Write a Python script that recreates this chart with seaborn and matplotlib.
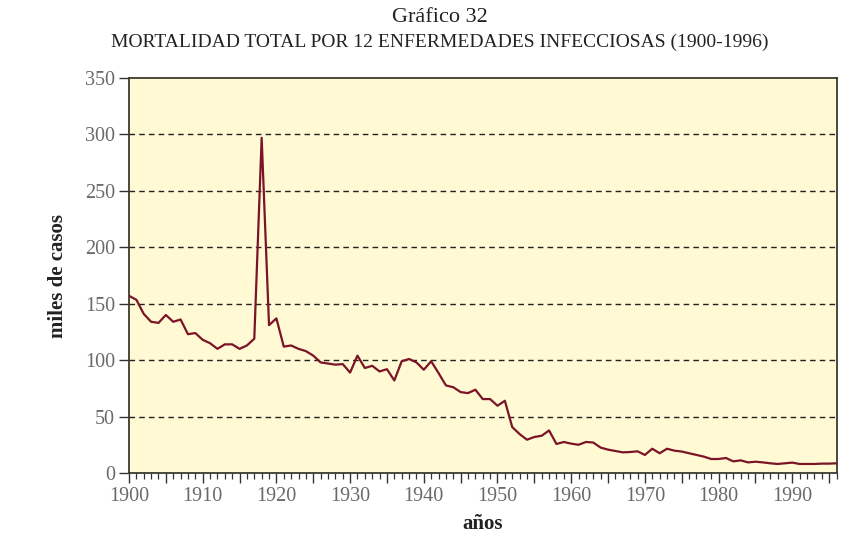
import numpy as np
import pandas as pd
import matplotlib
matplotlib.use("Agg")
import matplotlib.pyplot as plt
import seaborn as sns
from matplotlib.ticker import MultipleLocator

years = list(range(1900, 1997))
deaths = [
    157, 153.5, 141, 134, 133, 140, 134, 136, 123, 124,      # 1900-1909
    118, 115, 110, 114, 114, 110, 113, 119, 297, 131,        # 1910-1919
    137, 112, 113, 110, 108, 104, 98, 97, 96, 96.5,          # 1920-1929
    89, 104, 93, 95, 90, 92, 82, 99, 101, 98,                # 1930-1939
    91.5, 99, 88.6, 77.6, 76, 71.7, 70.8, 73.8, 65.5, 65.5,  # 1940-1949
    59.6, 64, 40.7, 34.5, 29.5, 31.9, 33, 37.7, 25.7, 27.5,  # 1950-1959
    26, 25, 27.5, 27, 22.5, 20.7, 19.5, 18.3, 18.6, 19.2,    # 1960-1969
    16, 21.5, 17.5, 21.5, 19.8, 19, 17.5, 16, 14.5, 12.4,    # 1970-1979
    12.4, 13.3, 10.3, 11.2, 9.4, 10, 9.4, 8.6, 8, 8.6,       # 1980-1989
    9.2, 8, 8, 8, 8.3, 8.3, 8.6,                             # 1990-1996
]
y_ticks = [0, 50, 100, 150, 200, 250, 300, 350]

df = pd.DataFrame({"year": years, "deaths": deaths})

sns.set_style("white")
plt.rcParams["font.family"] = ["Liberation Serif", "DejaVu Serif"]

fig = plt.figure(figsize=(8.51, 5.42), dpi=100)
ax = fig.add_axes([129 / 851, 1 - 473 / 542, (836.5 - 129) / 851, (473 - 78) / 542])
ax.set_facecolor("#FFF9D4")

for v in y_ticks[1:-1]:
    ax.axhline(v, color="#222222", lw=1.0, ls=(0, (4, 3)), zorder=1)

sns.lineplot(data=df, x="year", y="deaths", ax=ax, color="#7B1426", lw=1.6, zorder=3)

ax.set_xlim(1900, 1996)
ax.set_ylim(0, 350)
ax.set_yticks(y_ticks)
ax.xaxis.set_minor_locator(MultipleLocator(1))
ax.xaxis.set_major_locator(MultipleLocator(5))
ax.xaxis.set_major_formatter(
    matplotlib.ticker.FuncFormatter(lambda t, p: str(int(round(t))) if int(round(t)) % 10 == 0 else "")
)

ax.tick_params(axis="both", which="major", direction="out", length=7, width=1.0,
               color="#333333", labelcolor="#6a6a6a", labelsize=14.5, pad=3)
ax.tick_params(axis="x", which="minor", direction="out", length=4, width=0.9, color="#333333")
ax.tick_params(axis="x", which="both", bottom=True)
ax.tick_params(axis="y", left=True)

for s in ax.spines.values():
    s.set_color("#3a3a30")
    s.set_linewidth(1.3)
    s.set_visible(True)

ax.set_xlabel("años", fontsize=15, fontweight="bold", color="#222222", labelpad=6)
ax.set_ylabel("miles de casos", fontsize=15, fontweight="bold", color="#222222", labelpad=12)

fig.text(0.517, 1 - 17 / 542, "Gráfico 32", ha="center", va="center", fontsize=16, color="#222222")
fig.text(0.517, 1 - 42 / 542, "MORTALIDAD TOTAL POR 12 ENFERMEDADES INFECCIOSAS (1900-1996)",
         ha="center", va="center", fontsize=14, color="#222222")

fig.savefig("out.png", dpi=100, facecolor="white")
